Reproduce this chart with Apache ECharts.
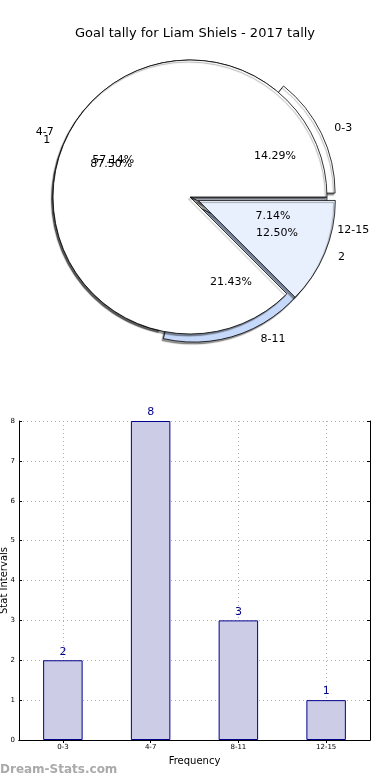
<!DOCTYPE html>
<html>
<head>
<meta charset="utf-8">
<script src="https://cdn.jsdelivr.net/npm/echarts@6/dist/echarts.min.js"></script>
<style>
html,body{margin:0;padding:0;background:#fff;}
#c{width:390px;height:780px;}
</style>
</head>
<body>
<div id="c"></div>
<script>
const titleText = 'Goal tally for Liam Shiels - 2017 tally';
const categories = ['0-3', '4-7', '8-11', '12-15'];
const counts = [2, 8, 3, 1];
const pieColors = ['#ffffff', '#ffffff', '#c6d9fa', '#e9f0fd'];
const pieExploded = [true, false, true, false];
const innerNames = ['1', '2'];
const innerValues = [7, 1];
const innerColors = ['#ffffff', '#e9f0fd'];
const innerExploded = [false, true];
const yTicks = [0, 1, 2, 3, 4, 5, 6, 7, 8];

const FONT = 'DejaVu Sans';
const CX = 190, CY = 197, R = 137, OFF = 9;

function pctFmt(p) { return p.percent.toFixed(2) + '%'; }

const shadow = { shadowColor: 'rgba(0,0,0,0.4)', shadowBlur: 1, shadowOffsetX: -1.5, shadowOffsetY: 2 };

function visibleData(names, vals, colors, expl) {
  return names.map((n, i) => ({
    name: n, value: vals[i], selected: expl[i],
    itemStyle: Object.assign({ color: colors[i], borderColor: '#000', borderWidth: 0.8 }, shadow)
  }));
}
function ghostData(names, vals, expl) {
  return names.map((n, i) => ({
    name: n, value: vals[i], selected: expl[i],
    itemStyle: { color: 'rgba(0,0,0,0)', borderWidth: 0 }
  }));
}

const pieCommon = {
  type: 'pie', center: [CX, CY], startAngle: 0, clockwise: false,
  selectedMode: 'multiple', selectedOffset: OFF, avoidLabelOverlap: false,
  animation: false, silent: true, emphasis: { disabled: true },
  labelLayout: { hideOverlap: false }
};

function shapeSeries(names, vals, colors, expl, z) {
  return Object.assign({}, pieCommon, {
    radius: [0, R], z: z,
    data: visibleData(names, vals, colors, expl),
    label: { show: false }, labelLine: { show: false }
  });
}
function nameSeries(names, vals, expl, z) {
  return Object.assign({}, pieCommon, {
    radius: [0, R], z: z,
    data: ghostData(names, vals, expl),
    label: { show: true, position: 'outside', color: '#000', fontFamily: FONT, fontSize: 11,
             distanceToLabelLine: 2, formatter: '{b}' },
    labelLine: { show: false, length: 12, length2: 0 }
  });
}
function pctSeries(names, vals, expl, z) {
  return Object.assign({}, pieCommon, {
    radius: [R * 0.2, R], z: z,
    data: ghostData(names, vals, expl),
    label: { show: true, position: 'inside', color: '#000', fontFamily: FONT, fontSize: 11,
             formatter: pctFmt },
    labelLine: { show: false }
  });
}

const option = {
  backgroundColor: '#ffffff',
  animation: false,
  title: {
    text: titleText, left: 'center', top: 22,
    textStyle: { fontFamily: FONT, fontSize: 13, fontWeight: 'normal', color: '#000' }
  },
  graphic: [{
    type: 'text', left: 0, top: 764,
    style: { text: 'Dream-Stats.com', fontFamily: FONT, fontSize: 12, fontWeight: 'bold', fill: '#aaaaaa' }
  }],
  grid: { left: 19, right: 20, top: 421, bottom: 40, containLabel: false, outerBoundsMode: 'none' },
  xAxis: [{
    type: 'category', data: categories, position: 'bottom',
    name: 'Frequency', nameLocation: 'middle', nameGap: 16, nameMoveOverlap: false,
    nameTextStyle: { fontFamily: FONT, fontSize: 10, color: '#000' },
    axisLine: { show: true, lineStyle: { color: '#000', width: 1 } },
    axisTick: { show: true, inside: true, alignWithLabel: true, length: 3, lineStyle: { color: '#000' } },
    axisLabel: { fontFamily: FONT, fontSize: 7, color: '#000', margin: 4 },
    splitLine: { show: true, alignWithLabel: true, lineStyle: { color: '#b0b0b0', type: [1, 3], width: 1 } }
  }, {
    type: 'category', data: categories, position: 'top',
    axisLine: { show: true, lineStyle: { color: '#000', width: 1 } },
    axisTick: { show: true, inside: true, alignWithLabel: true, length: 3, lineStyle: { color: '#000' } },
    axisLabel: { show: false }, splitLine: { show: false }
  }],
  yAxis: [{
    type: 'value', min: 0, max: 8, interval: 1, position: 'left',
    name: 'Stat Intervals', nameLocation: 'middle', nameGap: 10, nameRotate: 90, nameMoveOverlap: false,
    nameTextStyle: { fontFamily: FONT, fontSize: 10, color: '#000' },
    axisLine: { show: true, lineStyle: { color: '#000', width: 1 } },
    axisTick: { show: true, inside: true, length: 3, lineStyle: { color: '#000' } },
    axisLabel: { fontFamily: FONT, fontSize: 7, color: '#000', margin: 4,
                 formatter: v => yTicks.includes(v) ? String(v) : '' },
    splitLine: { show: true, lineStyle: { color: '#b0b0b0', type: [1, 3], width: 1 } }
  }, {
    type: 'value', min: 0, max: 8, interval: 1, position: 'right',
    axisLine: { show: true, lineStyle: { color: '#000', width: 1 } },
    axisTick: { show: true, inside: true, length: 3, lineStyle: { color: '#000' } },
    axisLabel: { show: false }, splitLine: { show: false }
  }],
  series: [
    shapeSeries(categories, counts, pieColors, pieExploded, 2),
    shapeSeries(innerNames, innerValues, innerColors, innerExploded, 3),
    nameSeries(categories, counts, pieExploded, 10),
    pctSeries(categories, counts, pieExploded, 11),
    nameSeries(innerNames, innerValues, innerExploded, 12),
    pctSeries(innerNames, innerValues, innerExploded, 13),
    {
      type: 'bar', data: counts, xAxisIndex: 0, yAxisIndex: 0, barWidth: '45%',
      itemStyle: { color: '#ccccE6', borderColor: '#00008b', borderWidth: 1 },
      label: { show: true, position: 'top', distance: 3, color: '#00008b', fontFamily: FONT, fontSize: 11 },
      emphasis: { disabled: true }, z: 3
    }
  ]
};

const chart = echarts.init(document.getElementById('c'), null, { renderer: 'canvas' });
chart.setOption(option);
</script>
</body>
</html>
